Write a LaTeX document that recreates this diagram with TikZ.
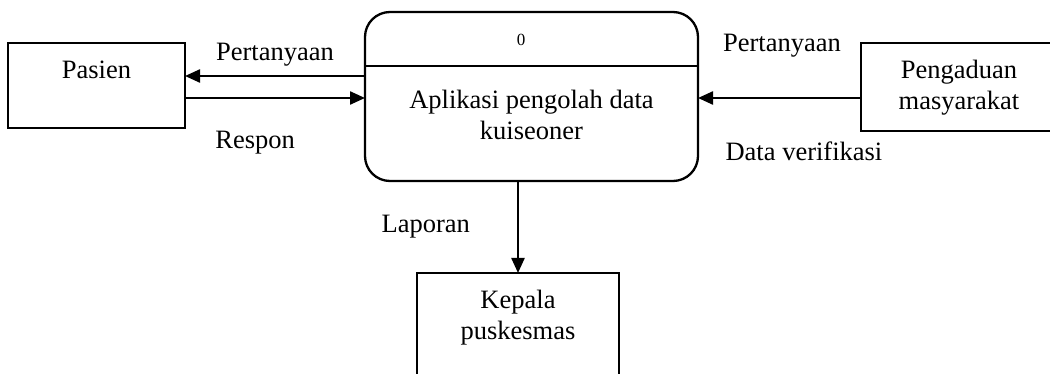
\documentclass[tikz,border=0pt]{standalone}
\usepackage{fontspec}
\setmainfont{Liberation Serif}
\usepackage{tikz}
\usetikzlibrary{arrows.meta,positioning,calc}
\newcommand{\dfdFont}{\fontsize{26.5}{31}\selectfont}
\newcommand{\dfdSmall}{\fontsize{17}{19}\selectfont}
\tikzset{
    dfdEntity/.style={
        rectangle,
        draw,
        line width=2.3pt,
        inner xsep=0pt,
        inner ysep=0pt,
        outer sep=0pt,
        font=\dfdFont,
        align=center
    },
    dfdProcess/.style={
        dfdEntity,
        rounded corners=25pt,
        minimum width=333pt
    },
    % Arrows
    dfdFlow/.style={-{Triangle[length=15pt,width=13pt]}, line width=2.3pt},
    dfdLabel/.style={font=\dfdFont, inner sep=2pt}
}
\begin{document}
\begin{tikzpicture}[x=1pt, y=-1pt, font=\dfdFont]
\useasboundingbox (0,0) rectangle (1050,374);
% external entities and the process
\node[dfdEntity, anchor=north west, minimum width=177pt, text height=36pt, text depth=49pt] (pasien) at (8,43) {Pasien};
\node[dfdProcess, anchor=north, text height=128pt, text depth=41pt] (proc) at (531.5,12) {Aplikasi pengolah data\\kuiseoner};
\node[dfdEntity, anchor=north west, minimum width=196pt, text height=67pt, text depth=21pt] (peng) at (861,43) {Pengaduan\\masyarakat};
\node[dfdEntity, anchor=north west, minimum width=202pt, text height=66pt, text depth=99pt] (kepala) at (417,273) {Kepala\\puskesmas};
\node[font=\dfdSmall, anchor=base] (procNum) at ([xshift=-10.5pt,yshift=-34pt]proc.north) {0};
\draw[line width=2.3pt] ([yshift=-54pt]proc.north west) -- ([yshift=-54pt]proc.north east);
% flows
\coordinate (pasTop) at ([yshift=9.5pt]pasien.east);
\coordinate (pasBot) at ([yshift=-12.5pt]pasien.east);
\coordinate (pengIn) at ([yshift=-11pt]peng.west);
\draw[dfdFlow] (pasTop -| proc.west) -- node[dfdLabel, above=7pt] (lblTanyaA) {Pertanyaan} (pasTop);
\draw[dfdFlow] (pasBot) -- node[dfdLabel, pos=0.39, below=30pt] (lblRespon) {Respon} (pasBot -| proc.west);
\draw[dfdFlow] (pengIn) -- node[dfdLabel, pos=0.485, above=38pt] (lblTanyaB) {Pertanyaan} node[dfdLabel, pos=0.35, below=41pt] (lblVerif) {Data verifikasi} (pengIn -| proc.east);
\draw[dfdFlow] (proc.south -| kepala.north) -- node[dfdLabel, left=45pt] (lblLapor) {Laporan} (kepala.north);
\end{tikzpicture}
\end{document}
